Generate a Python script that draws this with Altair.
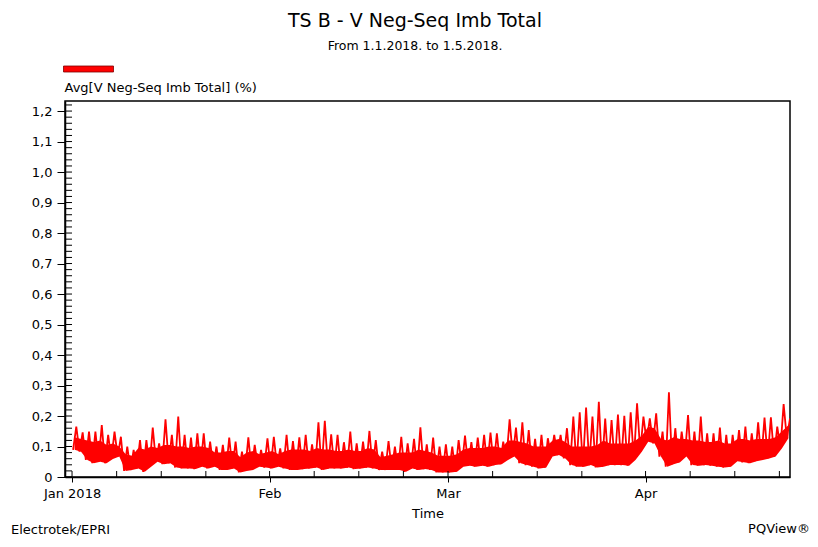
import altair as alt
import pandas as pd

# ---- data (daily low / dense-core top / high of the average, %) ----
start_day = "2018-01-01"
n_days = 113
daily_low = [
    .089, .083, .056, .045, .050, .045, .059, .067, .020, .023,
    .028, .017, .034, .050, .042, .045, .031, .028, .028, .026,
    .034, .028, .034, .023, .023, .028, .015, .020, .023, .034,
    .031, .028, .034, .028, .023, .023, .026, .028, .031, .023,
    .028, .028, .028, .031, .026, .028, .031, .028, .023, .023,
    .023, .023, .017, .028, .023, .026, .023, .015, .015, .015,
    .017, .034, .037, .034, .037, .034, .039, .042, .056, .067,
    .045, .039, .034, .028, .031, .067, .072, .061, .039, .034,
    .034, .039, .031, .034, .039, .039, .039, .037, .056, .083,
    .116, .110, .067, .034, .042, .048, .067, .039, .037, .039,
    .037, .034, .031, .034, .052, .048, .045, .052, .056, .061,
    .067, .094, .127,
]
daily_core = [
    .130, .125, .120, .115, .120, .105, .110, .100, .075, .070,
    .095, .090, .100, .095, .105, .105, .100, .100, .095, .100,
    .100, .095, .080, .080, .085, .085, .065, .080, .085, .075,
    .080, .085, .075, .085, .090, .090, .090, .085, .095, .090,
    .090, .085, .085, .090, .085, .085, .095, .090, .065, .070,
    .075, .080, .080, .080, .090, .085, .080, .070, .070, .070,
    .075, .090, .095, .095, .095, .100, .100, .095, .120, .120,
    .115, .110, .100, .100, .100, .120, .125, .115, .100, .100,
    .100, .100, .105, .120, .110, .110, .110, .110, .120, .135,
    .165, .160, .125, .120, .130, .125, .125, .120, .120, .115,
    .115, .120, .110, .110, .125, .125, .120, .125, .125, .125,
    .130, .150, .170,
]
daily_high = [
    .165, .146, .149, .149, .170, .138, .149, .132, .100, .089,
    .121, .121, .162, .110, .189, .138, .198, .138, .129, .143,
    .143, .116, .100, .105, .129, .116, .083, .130, .105, .089,
    .127, .132, .094, .138, .118, .130, .138, .107, .179, .184,
    .140, .138, .114, .149, .110, .116, .151, .121, .083, .118,
    .100, .132, .110, .125, .163, .107, .129, .100, .107, .100,
    .121, .136, .114, .129, .138, .146, .143, .116, .189, .162,
    .179, .154, .125, .138, .127, .138, .138, .160, .198, .212,
    .228, .198, .247, .192, .187, .205, .201, .212, .242, .198,
    .192, .209, .149, .278, .160, .149, .203, .149, .198, .143,
    .143, .162, .138, .138, .154, .165, .143, .179, .195, .196,
    .165, .239, .192,
]

y_major = [0.0, 0.1, 0.2, 0.3, 0.4, 0.5, 0.6, 0.7, 0.8, 0.9, 1.0, 1.1, 1.2]
y_minor = [round(0.02 * i, 2) for i in range(62)]
minor_x_ticks = [
    "2018-01-01T00:00:00", "2018-02-01T00:00:00", "2018-03-01T00:00:00", "2018-04-01T00:00:00",
    "2018-01-08T00:00:00", "2018-01-15T00:00:00", "2018-01-22T00:00:00",
    "2018-02-08T00:00:00", "2018-02-15T00:00:00", "2018-02-22T00:00:00",
    "2018-03-08T00:00:00", "2018-03-15T00:00:00", "2018-03-22T00:00:00",
    "2018-04-08T00:00:00", "2018-04-15T00:00:00", "2018-04-22T00:00:00",
]

title_text = "TS B - V Neg-Seq Imb Total"
subtitle_text = "From 1.1.2018. to 1.5.2018."
legend_text = "Avg[V Neg-Seq Imb Total] (%)"
footer_left = "Electrotek/EPRI"
footer_right = "PQView®"
x_title = "Time"

# ---- build tables ----
days = pd.date_range(start_day, periods=n_days, freq="D")
fmt = "%Y-%m-%dT%H:%M:%S"
rows = []
band = []
for d, lo, core, hi in zip(days, daily_low, daily_core, daily_high):
    rows.append({"t": (d + pd.Timedelta(hours=4)).strftime(fmt), "v": lo})
    rows.append({"t": (d + pd.Timedelta(hours=16)).strftime(fmt), "v": hi})
    band.append({"t": (d + pd.Timedelta(hours=10)).strftime(fmt), "lo": lo, "core": core})
df = pd.DataFrame(rows)
df_band = pd.DataFrame(band)

FONT = "DejaVu Sans"
RED = "#ff0000"
W, H = 725, 376
x_dom = [alt.DateTime(year=2017, month=12, date=30, hours=21, minutes=30),
         alt.DateTime(year=2018, month=4, date=23, hours=16)]
y_dom = [0, 1.233]

x_scale = alt.Scale(domain=x_dom)
y_scale = alt.Scale(domain=y_dom, nice=False, zero=False)

x_axis = alt.Axis(values=[alt.DateTime(year=2018, month=m, date=1) for m in (1, 2, 3, 4)],
                  labelExpr="month(datum.value) == 0 ? timeFormat(datum.value, '%b %Y') : timeFormat(datum.value, '%b')",
                  tickSize=5, labelPadding=5, title=x_title, titlePadding=7,
                  grid=False, domain=True, labelOverlap=False)
y_axis = alt.Axis(values=y_major,
                  labelExpr="datum.value == 0 ? '0' : replace(format(datum.value, '.1f'), '.', ',')",
                  tickSize=8, labelPadding=5, title=None, grid=False, domain=True,
                  labelOverlap=False)

line = alt.Chart(df).mark_line(color=RED, strokeWidth=1.8, clip=True).encode(
    x=alt.X("t:T", scale=x_scale, axis=x_axis),
    y=alt.Y("v:Q", scale=y_scale, axis=y_axis),
)

core_area = alt.Chart(df_band).mark_area(color=RED, opacity=1, clip=True).encode(
    x=alt.X("t:T", scale=x_scale, axis=x_axis),
    y=alt.Y("lo:Q", scale=y_scale, axis=y_axis),
    y2="core:Q",
)

ymin = alt.Chart(pd.DataFrame({"v": y_minor})).mark_rule(color="black", strokeWidth=1).encode(
    y=alt.Y("v:Q", scale=y_scale, axis=y_axis), x=alt.value(0), x2=alt.value(7))

xmin = alt.Chart(pd.DataFrame({"t": minor_x_ticks})).mark_rule(color="black", strokeWidth=1).encode(
    x=alt.X("t:T", scale=x_scale, axis=x_axis), y=alt.value(H), y2=alt.value(H - 6))

one = pd.DataFrame({"a": [0]})

def label(txt, x, y, size, align="left"):
    return alt.Chart(one).mark_text(text=txt, font=FONT, fontSize=size, align=align,
                                    baseline="alphabetic", color="black").encode(
        x=alt.value(x), y=alt.value(y))

legend_rect = alt.Chart(one).mark_rect(color=RED, stroke="#7f0000", strokeWidth=0.8).encode(
    x=alt.value(-1.5), x2=alt.value(48.5), y=alt.value(-35), y2=alt.value(-29))

chart = alt.layer(
    line, core_area, ymin, xmin, legend_rect,
    label(title_text, 350, -74, 19, "center"),
    label(subtitle_text, 350, -51, 12.5, "center"),
    label(legend_text, -0.5, -9, 13),
    label(footer_left, -54, 433, 13),
    label(footer_right, 745, 432, 13, "right"),
).properties(
    width=W, height=H, autosize=alt.AutoSizeParams(type="none"),
    padding={"left": 57, "top": 93, "right": 20, "bottom": 62},
).configure_view(stroke="black", strokeWidth=1.5
).configure_axis(
    labelFont=FONT, labelFontSize=13, labelColor="black", titleFont=FONT,
    titleFontSize=13, titleFontWeight="normal", titleColor="black",
    tickColor="black", domainColor="black", domainWidth=1.5,
)

chart.save("out.html", embed_options={"renderer": "svg", "actions": False})
